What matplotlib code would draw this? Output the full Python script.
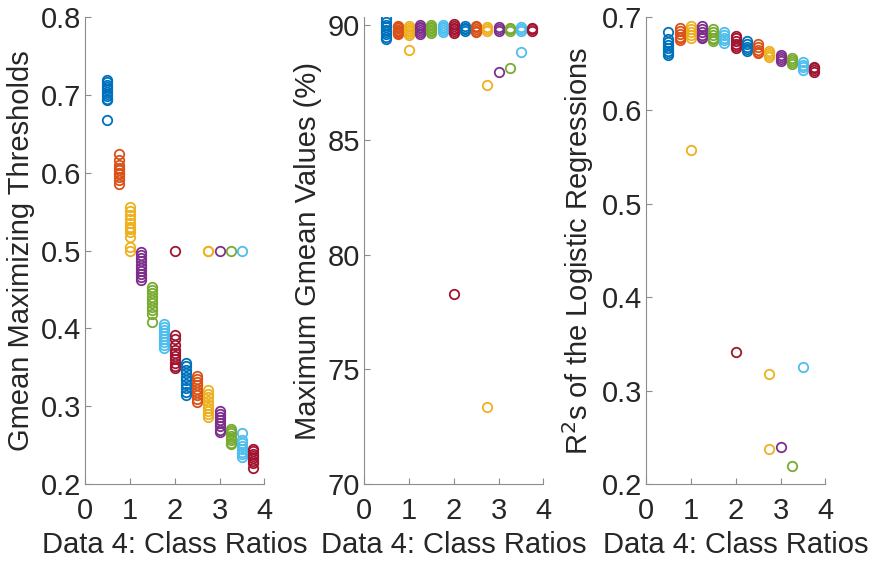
import numpy as np
import matplotlib.pyplot as plt

plt.rcParams['font.family'] = ['Liberation Sans', 'DejaVu Sans']

# class ratios (x positions of the groups)
ratios = [0.5, 0.75, 1.0, 1.25, 1.5, 1.75, 2.0, 2.25, 2.5, 2.75, 3.0, 3.25, 3.5, 3.75]

# MATLAB default colour order
colors = ['#0072BD', '#D95319', '#EDB120', '#7E2F8E', '#77AC30', '#4DBEEE', '#A2142F']

# Gmean maximizing thresholds
thresholds = [
    [0.719, 0.716, 0.713, 0.710, 0.707, 0.704, 0.701, 0.698, 0.695, 0.693, 0.668],
    [0.624, 0.616, 0.610, 0.606, 0.603, 0.600, 0.598, 0.595, 0.590, 0.585],
    [0.556, 0.551, 0.545, 0.540, 0.535, 0.530, 0.527, 0.524, 0.517, 0.505, 0.500],
    [0.498, 0.494, 0.490, 0.486, 0.482, 0.478, 0.474, 0.470, 0.466, 0.462],
    [0.453, 0.449, 0.445, 0.440, 0.436, 0.432, 0.428, 0.424, 0.419, 0.408],
    [0.406, 0.402, 0.398, 0.394, 0.390, 0.386, 0.382, 0.378, 0.375],
    [0.391, 0.386, 0.378, 0.372, 0.368, 0.364, 0.360, 0.356, 0.352, 0.349, 0.500],
    [0.356, 0.352, 0.347, 0.342, 0.337, 0.333, 0.328, 0.323, 0.318, 0.315],
    [0.339, 0.335, 0.331, 0.327, 0.322, 0.318, 0.314, 0.309, 0.305],
    [0.321, 0.316, 0.312, 0.307, 0.302, 0.298, 0.294, 0.290, 0.286, 0.500, 0.500],
    [0.294, 0.290, 0.286, 0.282, 0.278, 0.274, 0.270, 0.267, 0.500],
    [0.271, 0.268, 0.265, 0.262, 0.259, 0.256, 0.253, 0.251, 0.500],
    [0.266, 0.257, 0.253, 0.249, 0.245, 0.241, 0.238, 0.235, 0.500],
    [0.245, 0.242, 0.239, 0.236, 0.233, 0.230, 0.227, 0.221],
]

# maximum Gmean values (%)
gmeans = [
    [90.30, 90.15, 90.00, 89.90, 89.80, 89.70, 89.60, 89.50, 89.40],
    [89.95, 89.90, 89.85, 89.80, 89.75, 89.70, 89.65, 89.60],
    [89.95, 89.88, 89.80, 89.72, 89.65, 89.58, 88.91],
    [90.00, 89.92, 89.85, 89.78, 89.70, 89.62],
    [90.00, 89.93, 89.86, 89.79, 89.72, 89.65],
    [90.00, 89.92, 89.85, 89.78, 89.70],
    [90.05, 89.97, 89.89, 89.81, 89.73, 89.65, 78.28],
    [89.95, 89.88, 89.82, 89.75],
    [89.97, 89.90, 89.83, 89.76, 89.70],
    [89.90, 89.83, 89.76, 87.39, 73.36],
    [89.90, 89.83, 89.76, 87.97],
    [89.88, 89.82, 89.75, 88.11],
    [89.90, 89.81, 89.72, 88.84],
    [89.88, 89.82, 89.75],
]

# R^2 of the logistic regressions
r2 = [
    [0.684, 0.676, 0.673, 0.670, 0.667, 0.664, 0.661, 0.659],
    [0.688, 0.685, 0.682, 0.679, 0.677, 0.675],
    [0.690, 0.687, 0.684, 0.681, 0.678, 0.558],
    [0.690, 0.687, 0.684, 0.681, 0.679, 0.677],
    [0.687, 0.684, 0.681, 0.678, 0.676, 0.674],
    [0.684, 0.681, 0.678, 0.675, 0.672],
    [0.680, 0.677, 0.674, 0.671, 0.669, 0.667, 0.341],
    [0.674, 0.671, 0.668, 0.666, 0.664],
    [0.671, 0.668, 0.665, 0.663, 0.661],
    [0.664, 0.661, 0.659, 0.657, 0.318, 0.2375],
    [0.659, 0.657, 0.655, 0.653, 0.2396],
    [0.656, 0.654, 0.652, 0.650, 0.219],
    [0.652, 0.649, 0.646, 0.643, 0.325],
    [0.647, 0.645, 0.643, 0.641],
]

ylabels = ['Gmean Maximizing Thresholds', 'Maximum Gmean Values (%)',
           'R$^2$s of the Logistic Regressions']
ylims = [(0.2, 0.8), (70, 90.35), (0.2, 0.7)]
yticks = [np.arange(0.2, 0.81, 0.1), [70, 75, 80, 85, 90], np.arange(0.2, 0.71, 0.1)]
yticklabels = [['0.2', '0.3', '0.4', '0.5', '0.6', '0.7', '0.8'],
               ['70', '75', '80', '85', '90'],
               ['0.2', '0.3', '0.4', '0.5', '0.6', '0.7']]
lefts = [0.0977, 0.4184, 0.7425]

fig = plt.figure(figsize=(8.7, 5.63), dpi=100)

for k, data in enumerate([thresholds, gmeans, r2]):
    ax = fig.add_axes([lefts[k], 0.1403, 0.2063, 0.8295])
    for i, vals in enumerate(data):
        ax.plot([ratios[i]] * len(vals), vals, 'o', mfc='none',
                mec=colors[i % 7], ms=6.8, mew=1.3)
    ax.set_xlim(0, 4)
    ax.set_ylim(ylims[k])
    ax.set_xticks([0, 1, 2, 3, 4])
    ax.set_yticks(yticks[k])
    ax.set_yticklabels(yticklabels[k])
    ax.spines['top'].set_visible(False)
    ax.spines['right'].set_visible(False)
    for s in ['left', 'bottom']:
        ax.spines[s].set_color('#8c8c8c')
        ax.spines[s].set_linewidth(0.8)
    ax.tick_params(direction='in', length=4, width=0.8, color='#8c8c8c',
                   labelsize=21, labelcolor='#262626', pad=3)
    ax.tick_params(axis='x', pad=9)
    ax.set_xlabel('Data 4: Class Ratios', fontsize=21, color='#262626', labelpad=5)
    ax.set_ylabel(ylabels[k], fontsize=21, color='#262626', labelpad=4)

fig.savefig('out.png', dpi=100)
